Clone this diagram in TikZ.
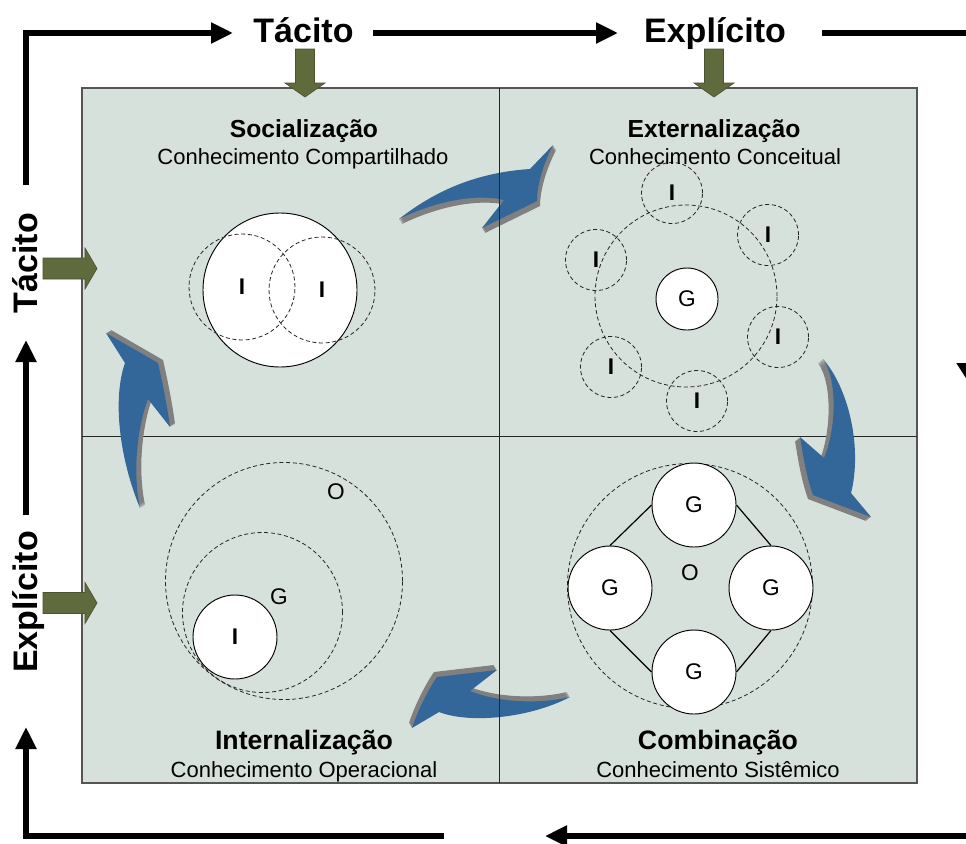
\documentclass[tikz,border=0pt]{standalone}
\usepackage{fontspec}
\setmainfont{Liberation Sans}
\usetikzlibrary{arrows.meta,calc}
\definecolor{boxfill}{HTML}{D7E1DB}
\definecolor{boxline}{HTML}{555555}
\definecolor{greenarrow}{HTML}{5F6A3D}
\definecolor{greenedge}{HTML}{4A5230}
\definecolor{arrowblue}{HTML}{336699}
\definecolor{shadowgray}{HTML}{808080}
\newcommand{\extrudedarrow}[3]{%
  \foreach \k in {1,...,10}{%
    \fill[shadowgray, shift={({#1*\k/10},{#2*\k/10})}] #3;
  }%
  \fill[arrowblue] #3;
}
\begin{document}
\begin{tikzpicture}[x=0.75pt,y=-0.75pt,
  frame/.style={line width=4pt, line join=miter, -{Triangle[length=16.5pt,width=15pt]}},
  axis/.style={font=\fontsize{25.5}{30}\selectfont\bfseries, inner sep=0pt, anchor=base},
  ttl/.style={font=\fontsize{18.5}{22}\selectfont\bfseries, inner sep=0pt, anchor=base},
  bttl/.style={font=\fontsize{20}{24}\selectfont\bfseries, inner sep=0pt, anchor=base},
  sub/.style={font=\fontsize{16.5}{20}\selectfont, inner sep=0pt, anchor=base},
  dcirc/.style={circle, draw=black!85, dash pattern=on 3pt off 2pt, line width=0.6pt, inner sep=0pt},
  wcirc/.style={circle, draw=black, fill=white, line width=0.7pt, inner sep=0pt},
  lblI/.style={font=\fontsize{17}{20}\selectfont\bfseries},
  lblG/.style={font=\fontsize{17}{20}\selectfont, inner sep=0pt},
  garrow/.style={fill=greenarrow, draw=greenedge, line width=0.5pt},
]
\useasboundingbox (0,0) rectangle (966,843);
\fill[white] (0,0) rectangle (966,843);

% main box
\draw[boxline, fill=boxfill, line width=0.9pt] (82,88) rectangle (917,783);
\draw[black!85, line width=0.7pt] (82,436) -- (917,436);

% Socializacao
\node[wcirc, minimum size=115.5pt] (sbig) at (280,290) {};
\node[dcirc, minimum size=79.5pt, lblI] (s1) at (242,287) {I};
\node[dcirc, minimum size=79.5pt, lblI] (s2) at (322,290) {I};

% Externalizacao
\node[dcirc, minimum size=136.5pt] (ebig) at (686,296) {};
\node[wcirc, minimum size=46.5pt, lblG] (eg) at (687,299) {G};
\node[dcirc, minimum size=45.75pt, lblI] (e1) at (672,193) {I};
\node[dcirc, minimum size=45.75pt, lblI] (e2) at (768,235) {I};
\node[dcirc, minimum size=45.75pt, lblI] (e3) at (596,260) {I};
\node[dcirc, minimum size=45.75pt, lblI] (e4) at (778,337) {I};
\node[dcirc, minimum size=45.75pt, lblI] (e5) at (611,367) {I};
\node[dcirc, minimum size=45.75pt, lblI] (e6) at (697,401) {I};

% Internalizacao
\node[dcirc, minimum size=177.75pt] (io) at (284,581) {};
\node[dcirc, minimum size=120pt] (ig) at (262.5,612.5) {};
\node[wcirc, minimum size=63pt, lblI] (ii) at (235,637) {I};
\node[lblG] (iol) at (336,492) {O};
\node[lblG] (igl) at (279,597) {G};

% Combinacao
\node[dcirc, minimum size=183.75pt] (co) at (690,586) {};
\node[wcirc, minimum size=63pt, lblG] (ct) at (694,505) {G};
\node[wcirc, minimum size=63pt, lblG] (cl) at (610,588) {G};
\node[wcirc, minimum size=63pt, lblG] (cr) at (771,588) {G};
\node[wcirc, minimum size=63pt, lblG] (cb) at (694,672) {G};
\node[lblG] (col) at (690,573) {O};
\draw[line width=0.9pt] (ct.west) -- (cl.north);
\draw[line width=0.9pt] (ct.east) -- (cr.north);
\draw[line width=0.9pt] (cl.south) -- (cb.west);
\draw[line width=0.9pt] (cr.south) -- (cb.east);

% quadrant titles
\node[ttl] (soc) at (304,137) {Socialização};
\node[sub] (socs) at (303,164) {Conhecimento Compartilhado};
\node[ttl] (ext) at (714,137) {Externalização};
\node[sub] (exts) at (715,164) {Conhecimento Conceitual};
\node[bttl] (int) at (304,749) {Internalização};
\node[sub] (ints) at (304,777) {Conhecimento Operacional};
\node[bttl] (com) at (718,749) {Combinação};
\node[sub] (coms) at (718,777) {Conhecimento Sistêmico};

% curved blue arrows
\extrudedarrow{3}{5}{(399,219) .. controls (430,195) and (470,173) .. (530,169) -- (553,145) .. controls (543,165) and (537,185) .. (537,201) -- (482,228) -- (504,200) .. controls (480,194) and (440,199) .. (399,219) -- cycle}
\extrudedarrow{5}{-3}{(140,508) .. controls (120,460) and (112,400) .. (125,363) -- (106,333) -- (158,363) .. controls (163,385) and (167,405) .. (170,427) -- (148,399) .. controls (138,425) and (132,470) .. (140,508) -- cycle}
\extrudedarrow{-5}{4}{(823,359) .. controls (850,390) and (862,450) .. (851,493) -- (871,517) -- (813,495) .. controls (806,475) and (803,455) .. (800,437) -- (824,458) .. controls (836,430) and (838,380) .. (823,359) -- cycle}
\extrudedarrow{-3}{-5}{(570,697) .. controls (530,718) and (470,724) .. (439,712) -- (412,728) .. controls (418,710) and (428,690) .. (437,677) -- (497,670) -- (470,691) .. controls (500,703) and (540,704) .. (570,697) -- cycle}

% vertical divider on top
\draw[black!85, line width=0.7pt] (499,88) -- (499,783);

% green input arrows
\foreach \cx in {305,714}{
  \filldraw[garrow] (\cx-9.5,49) -- (\cx+9.5,49) -- (\cx+9.5,83) -- (\cx+20,83) -- (\cx,97) -- (\cx-20,83) -- (\cx-9.5,83) -- cycle;
}
\foreach \cy in {268.5,603}{
  \filldraw[garrow] (43,\cy-10.5) -- (85,\cy-10.5) -- (85,\cy-20.5) -- (97,\cy) -- (85,\cy+20.5) -- (85,\cy+10.5) -- (43,\cy+10.5) -- cycle;
}

% axis labels
\node[axis] (tacT) at (303.5,42) {Tácito};
\node[axis] (expT) at (715,42) {Explícito};
\node[axis, rotate=90] (tacL) at (37,263) {Tácito};
\node[axis, rotate=90] (expL) at (37,602) {Explícito};

% frame arrows
\coordinate (a0) at (26,185);
\coordinate (a1) at (26,33);
\coordinate (a2) at (233,33);
\coordinate (b0) at (373,33);
\coordinate (b1) at (618,33);
\coordinate (c0) at (822,33);
\coordinate (c1) at (969,33);
\coordinate (c2) at (969,383);
\coordinate (d0) at (969,400);
\coordinate (d1) at (969,836);
\coordinate (d2) at (545,836);
\coordinate (e0) at (444,836);
\coordinate (e1) at (26,836);
\coordinate (e2) at (26,727);
\coordinate (f0) at (26,515);
\coordinate (f1) at (26,340);
\draw[frame] (a0) -- (a1) -- (a2);
\draw[frame] (b0) -- (b1);
\draw[line width=4pt, line join=miter, -{Triangle[length=15pt,width=18pt]}] (c0) -- (c1) -- (c2);
\draw[frame] (d0) -- (d1) -- (d2);
\draw[frame] (e0) -- (e1) -- (e2);
\draw[frame] (f0) -- (f1);
\end{tikzpicture}
\end{document}
